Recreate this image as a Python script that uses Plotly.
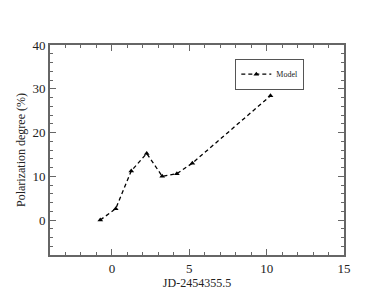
import plotly.graph_objects as go

jd = [-0.75, 0.25, 1.25, 2.25, 3.25, 4.2, 5.2, 10.25]
pol = [0.0, 2.6, 11.2, 15.2, 10.0, 10.6, 13.0, 28.4]

fig = go.Figure()
fig.add_trace(go.Scatter(
    x=jd, y=pol, mode="lines+markers", name="Model",
    line=dict(color="black", width=1.3, dash="4px,3px"),
    marker=dict(symbol="triangle-up", size=5, color="black"),
))

axis_common = dict(
    showline=True, linecolor="#666", linewidth=2, mirror="allticks",
    ticks="inside", ticklen=6, tickcolor="#666", tickwidth=1.2,
    showgrid=False, zeroline=False,
    tickfont=dict(family="Liberation Serif", size=13, color="#222"),
)

fig.update_xaxes(range=[-4, 15], tickvals=[0, 5, 10, 15],
                 minor=dict(dtick=1, tick0=0, ticks="inside", ticklen=3, tickcolor="#666"),
                 title=dict(text="JD-2454355.5", standoff=2,
                            font=dict(family="Liberation Serif", size=12, color="#222")),
                 **axis_common)
fig.update_yaxes(range=[-8, 40], tickvals=[0, 10, 20, 30, 40],
                 minor=dict(dtick=2, tick0=0, ticks="inside", ticklen=3, tickcolor="#666"),
                 title=dict(text="Polarization degree (%)", standoff=4,
                            font=dict(family="Liberation Serif", size=12, color="#222")),
                 **axis_common)

fig.update_layout(
    width=380, height=292,
    margin=dict(l=37, r=44, t=37, b=45),
    plot_bgcolor="white", paper_bgcolor="white",
    showlegend=True,
    legend=dict(x=0.865, y=0.935, xanchor="right", yanchor="top",
                bgcolor="white", bordercolor="#555", borderwidth=1,
                font=dict(family="Liberation Serif", size=8, color="#222"),
                itemwidth=30, tracegroupgap=0),
)

fig.write_html("out.html")
